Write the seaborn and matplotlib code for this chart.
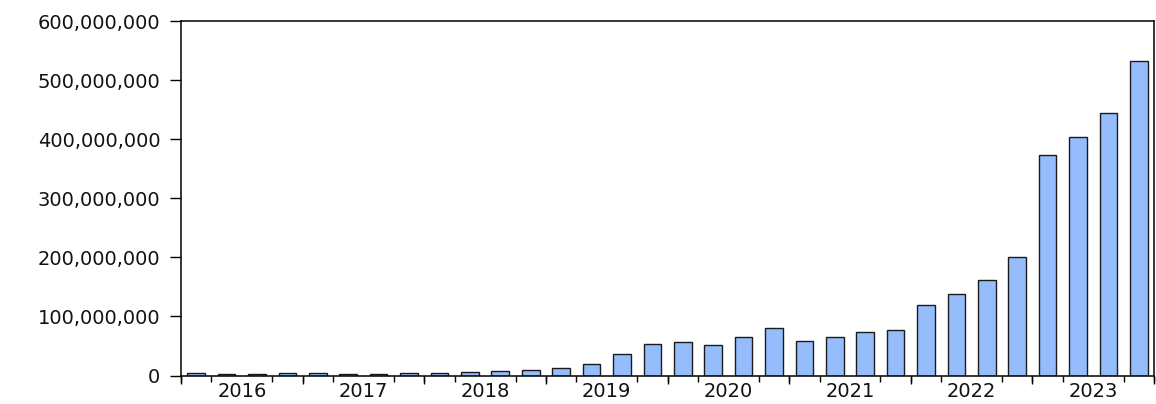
import numpy as np
import pandas as pd
import matplotlib
matplotlib.use("Agg")
import matplotlib.pyplot as plt
from matplotlib.ticker import FuncFormatter, FixedLocator
import seaborn as sns

# --- Datos (trimestrales, 2016Q1 - 2023Q4) ---
years = ["2016", "2017", "2018", "2019", "2020", "2021", "2022", "2023"]
quarters = [f"{y}Q{q}" for y in years for q in range(1, 5)]
values = [
    3.5e6, 2.0e6, 2.5e6, 3.5e6,
    3.5e6, 2.5e6, 3.0e6, 3.5e6,
    5.0e6, 6.5e6, 8.0e6, 10.0e6,
    13.0e6, 20.0e6, 37.0e6, 52.5e6,
    57.0e6, 51.0e6, 65.0e6, 80.0e6,
    59.0e6, 66.0e6, 74.0e6, 77.0e6,
    119.0e6, 138.0e6, 161.0e6, 200.0e6,
    373.0e6, 404.0e6, 443.5e6, 531.5e6,
]
y_ticks = [0, 100e6, 200e6, 300e6, 400e6, 500e6, 600e6]

df = pd.DataFrame({"trimestre": quarters, "valor": values})

# --- Estilo ---
sns.set_style("white")
plt.rcParams["font.family"] = ["DejaVu Sans"]

fig = plt.figure(figsize=(11.56, 4.04), dpi=100)
ax = fig.add_axes([0.1566, 0.0705, 0.8417, 0.8775])

sns.barplot(data=df, x="trimestre", y="valor", color="#95BDFC", saturation=1,
            width=0.58, edgecolor="#1a1a1a", linewidth=1.0, ax=ax)

ax.set_xlim(-0.5, len(quarters) - 0.5)
ax.set_ylim(0, 600e6)
ax.set_xlabel("")
ax.set_ylabel("")

for s in ax.spines.values():
    s.set_color("black")
    s.set_linewidth(1.1)

# Eje Y
ax.yaxis.set_major_locator(FixedLocator(y_ticks))
ax.yaxis.set_major_formatter(FuncFormatter(lambda v, p: f"{v:,.0f}"))
ax.tick_params(axis="y", which="major", direction="out", length=8, width=1.0,
               color="black", pad=7, labelsize=14, labelcolor="#111111", left=True)

# Eje X: etiquetas de año al centro, marcas en los límites de trimestre
n_years = len(years)
ax.set_xticks([4 * i + 1.5 for i in range(n_years)])
ax.set_xticklabels(years)
ax.set_xticks(np.arange(-0.5, len(quarters), 1.0), minor=True)
ax.tick_params(axis="x", which="major", length=0, pad=5, labelsize=14, labelcolor="#111111")
ax.tick_params(axis="x", which="minor", direction="out", length=4, width=1.0,
               color="black", bottom=True)

sec = ax.secondary_xaxis("bottom")
sec.set_xticks([4 * i - 0.5 for i in range(n_years + 1)])
sec.set_xticklabels([])
sec.tick_params(axis="x", direction="out", length=6, width=1.0, color="black")
sec.spines["bottom"].set_visible(False)

fig.savefig("out.png", dpi=100, facecolor="white")
